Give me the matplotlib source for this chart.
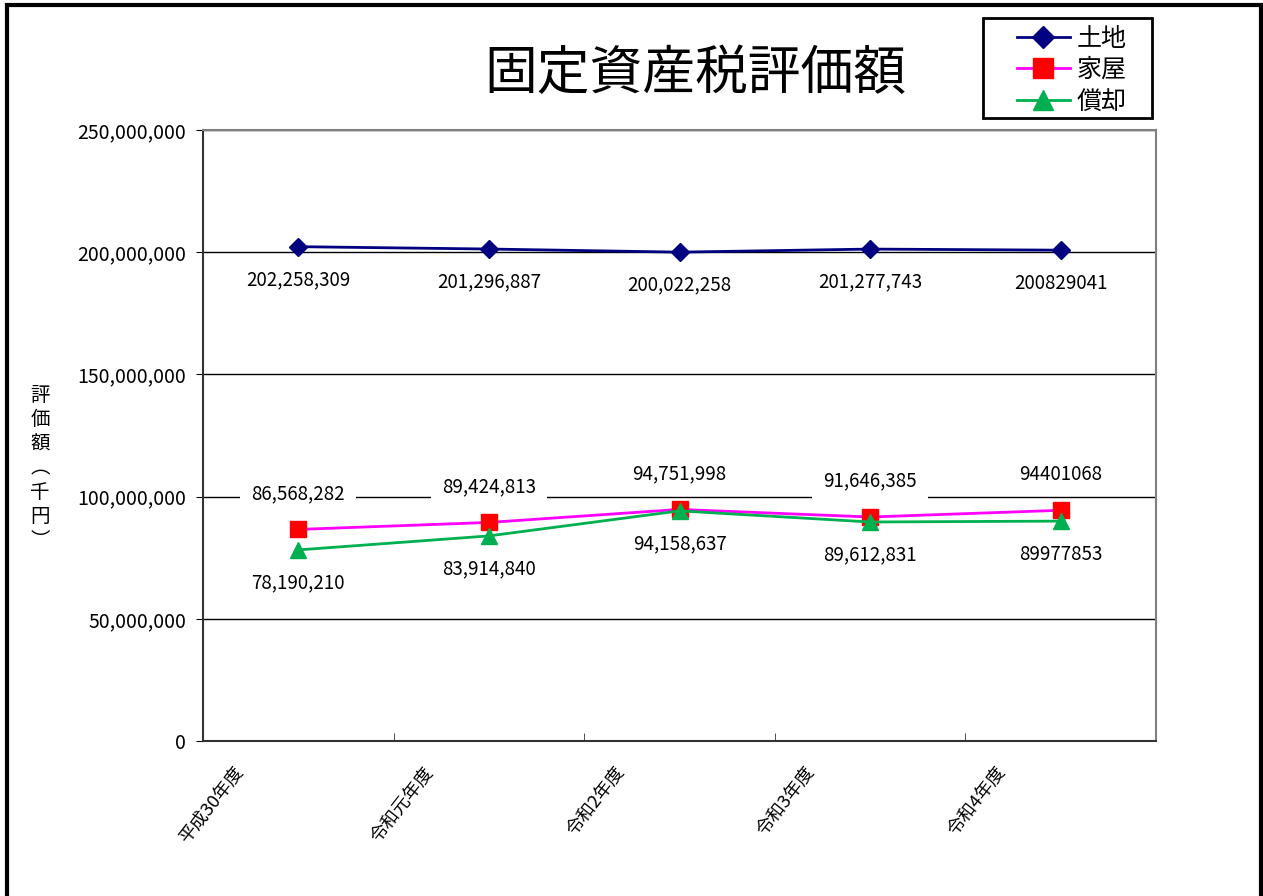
import matplotlib
matplotlib.use("Agg")
import matplotlib.pyplot as plt
import matplotlib.transforms as mtransforms
from matplotlib.ticker import FuncFormatter, MultipleLocator
from matplotlib.patches import Rectangle

plt.rcParams['font.family'] = ['Noto Sans CJK JP', 'DejaVu Sans']

categories = ["平成30年度", "令和元年度", "令和2年度", "令和3年度", "令和4年度"]
land = [202258309, 201296887, 200022258, 201277743, 200829041]
house = [86568282, 89424813, 94751998, 91646385, 94401068]
depr = [78190210, 83914840, 94158637, 89612831, 89977853]
land_labels = ["202,258,309", "201,296,887", "200,022,258", "201,277,743", "200829041"]
house_labels = ["86,568,282", "89,424,813", "94,751,998", "91,646,385", "94401068"]
depr_labels = ["78,190,210", "83,914,840", "94,158,637", "89,612,831", "89977853"]
series_names = ["土地", "家屋", "償却"]

W, H = 1263, 896
fig = plt.figure(figsize=(W / 100, H / 100), dpi=100)
fig.patch.set_facecolor("white")

# outer frame
fig.add_artist(Rectangle((7 / W, -0.05), (1261 - 7) / W, (H - 5) / H + 0.05,
                         transform=fig.transFigure, fill=False, edgecolor="black", lw=3))

ax = fig.add_axes([203 / W, 1 - 741 / H, (1156 - 203) / W, (741 - 130) / H])
x = list(range(len(categories)))

ax.set_xlim(-0.5, len(categories) - 0.5)
ax.set_ylim(0, 250000000)
ax.yaxis.set_major_locator(MultipleLocator(50000000))
ax.yaxis.set_major_formatter(FuncFormatter(lambda v, p: f"{int(v):,}"))
ax.grid(axis="y", color="black", lw=1)
ax.set_axisbelow(True)

for s in ["top", "right"]:
    ax.spines[s].set_color("#808080")
    ax.spines[s].set_linewidth(1.5)
for s in ["left", "bottom"]:
    ax.spines[s].set_color("#333333")
    ax.spines[s].set_linewidth(1.5)

ax.plot(x, land, color="#000080", lw=2, marker="D", ms=9, mfc="#000080", mec="#000080", label=series_names[0], zorder=3)
ax.plot(x, house, color="#FF00FF", lw=2, marker="s", ms=11, mfc="#FF0000", mec="#FF0000", label=series_names[1], zorder=3)
ax.plot(x, depr, color="#00B050", lw=2, marker="^", ms=11, mfc="#00B050", mec="#00B050", label=series_names[2], zorder=4)

bbox = dict(facecolor="white", edgecolor="none", pad=8)
for i in x:
    ax.annotate(land_labels[i], (i, land[i]), xytext=(0, -33), textcoords="offset pixels",
                ha="center", va="center", fontsize=13.5, bbox=bbox, zorder=5)
    ax.annotate(house_labels[i], (i, house[i]), xytext=(0, 36), textcoords="offset pixels",
                ha="center", va="center", fontsize=13.5, bbox=bbox, zorder=5)
    ax.annotate(depr_labels[i], (i, depr[i]), xytext=(0, -33), textcoords="offset pixels",
                ha="center", va="center", fontsize=13.5, bbox=bbox, zorder=5)

ax.set_xticks(x)
ax.set_xticklabels(categories, rotation=52, ha="right", va="top", rotation_mode="anchor", fontsize=13)
ax.tick_params(axis="x", length=0, pad=16)
offset = mtransforms.ScaledTranslation(-0.66, 0, fig.dpi_scale_trans)
for lbl in ax.get_xticklabels():
    lbl.set_transform(lbl.get_transform() + offset)
ax.set_xticks([i + 0.5 for i in x[:-1]], minor=True)
ax.tick_params(axis="x", which="minor", length=6, direction="in", color="#333333")
ax.tick_params(axis="y", length=5, direction="out", labelsize=14, pad=7)

fig.text(40 / W, 1 - 468 / H, "\n".join(["評", "価", "額", "︵", "千", "円", "︶"]), ha="center", va="center",
         fontsize=14, linespacing=1.2)

fig.text(695 / W, 1 - 74 / H, "固定資産税評価額", ha="center", va="center", fontsize=38)

# legend frame drawn separately so the padding can match
fig.add_artist(Rectangle((983 / W, 1 - 118 / H), (1152 - 983) / W, 100 / H,
                         transform=fig.transFigure, fill=False, edgecolor="black", lw=2))
leg = fig.legend(loc="center", bbox_to_anchor=(1072 / W, 1 - 70 / H), fontsize=18,
                 frameon=False, handlelength=2.1, labelspacing=0.22, handletextpad=0.3,
                 borderpad=0, borderaxespad=0, markerscale=1.3)

fig.savefig("out.png", dpi=100)
